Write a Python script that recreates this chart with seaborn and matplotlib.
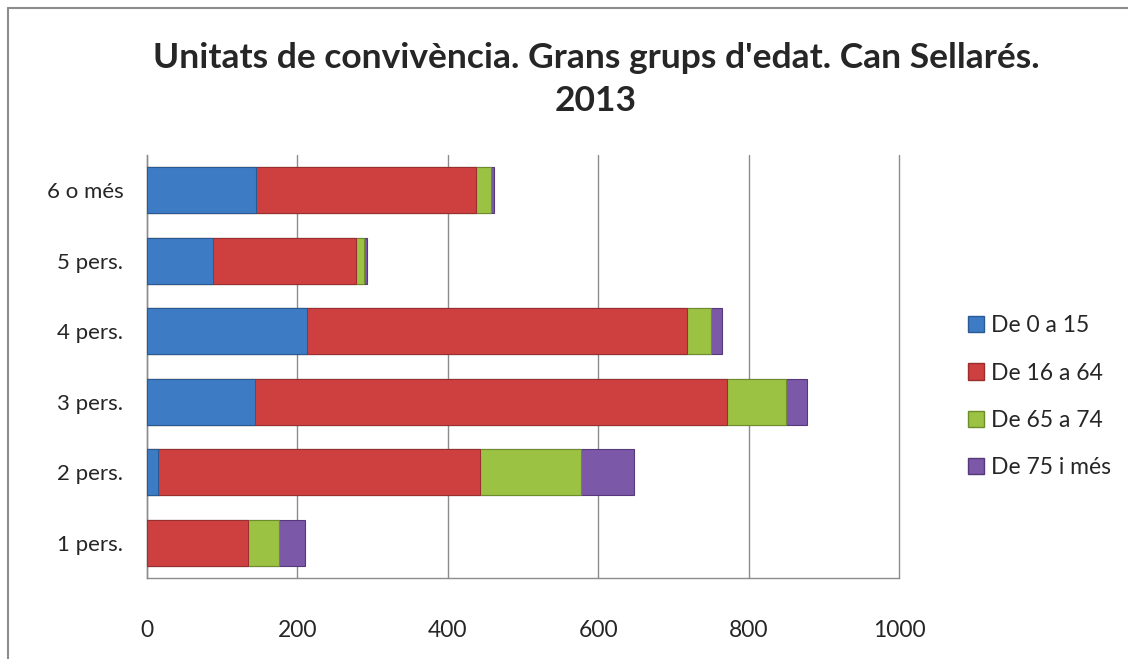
import matplotlib
matplotlib.use("Agg")
import matplotlib.pyplot as plt
import seaborn as sns
import pandas as pd
import numpy as np
from matplotlib.patches import Patch
from matplotlib.lines import Line2D

categories = ["6 o més", "5 pers.", "4 pers.", "3 pers.", "2 pers.", "1 pers."]
series_names = ["De 0 a 15", "De 16 a 64", "De 65 a 74", "De 75 i més"]
v_0_15 = [145, 88, 213, 144, 15, 0]
v_16_64 = [293, 190, 505, 627, 428, 134]
v_65_74 = [19, 10, 32, 79, 134, 42]
v_75 = [5, 4, 15, 27, 70, 34]
colors = ["#3D7BC4", "#CE4040", "#9CC244", "#7C58A8"]
edges = ["#2A5A94", "#9A2E2E", "#6E8C2C", "#55397A"]
xticks = [0, 200, 400, 600, 800, 1000]

sns.set_theme(style="white")
plt.rcParams['font.family'] = ['Lato', 'DejaVu Sans']

fig = plt.figure(figsize=(11.28, 6.59), dpi=100)
ax = fig.add_axes([147/1128, 1 - 578/659, (899-147)/1128, (578-155)/659])

vals = [v_0_15, v_16_64, v_65_74, v_75]
cum = np.cumsum(np.array(vals), axis=0)
for i in range(3, -1, -1):
    df = pd.DataFrame({"cat": categories, "val": cum[i]})
    sns.barplot(data=df, x="val", y="cat", order=categories, color=colors[i],
                orient="h", width=0.65, ax=ax, saturation=1,
                edgecolor=edges[i], linewidth=0.8, zorder=3)

ax.set_xlim(0, 1000)
ax.set_xticks(xticks)
ax.set_xticklabels([str(t) for t in xticks], fontsize=16.5)
ax.tick_params(axis="x", pad=30, length=0)
ax.tick_params(axis="y", pad=17, length=0, labelsize=16)
ax.set_xlabel("")
ax.set_ylabel("")
ax.grid(axis="x", color="#8C8C8C", linewidth=1, zorder=0)
for gl in ax.get_xgridlines():
    gl.set_clip_on(False)
ax.set_axisbelow(True)
for s in ["top", "right"]:
    ax.spines[s].set_visible(False)
for s in ["left", "bottom"]:
    ax.spines[s].set_color("#8C8C8C")
    ax.spines[s].set_linewidth(1)
ax.set_ylim(5.5, -0.5)

fig.text(596/1128, 1 - 58/659, "Unitats de convivència. Grans grups d'edat. Can Sellarés.",
         ha="center", va="center", fontsize=25.5, fontweight="bold")
fig.text(596/1128, 1 - 101/659, "2013", ha="center", va="center", fontsize=25.5, fontweight="bold")

handles = [Patch(facecolor=colors[i], edgecolor=edges[i]) for i in range(4)]
fig.legend(handles, series_names, loc="upper left", bbox_to_anchor=(959/1128, 1 - 306/659),
           frameon=False, fontsize=16.5, handlelength=0.7, handleheight=0.7,
           handletextpad=0.3, labelspacing=1.15, borderaxespad=0)

fig.add_artist(Line2D([8/1128, 8/1128], [0, 1 - 8/659], transform=fig.transFigure, color="#8C8C8C", linewidth=1.5))
fig.add_artist(Line2D([8/1128, 1], [1 - 8/659, 1 - 8/659], transform=fig.transFigure, color="#8C8C8C", linewidth=1.5))

fig.savefig("out.png", dpi=100)
